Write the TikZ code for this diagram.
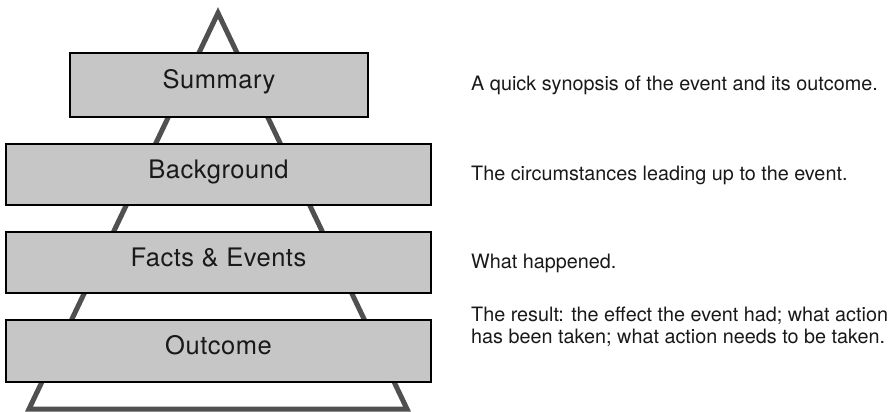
\documentclass[tikz,border=0pt]{standalone}
\usepackage{fontspec}
\setmainfont{TeX Gyre Heros}
\newfontfamily\labelfont[LetterSpace=2]{TeX Gyre Heros}
\begin{document}
\begin{tikzpicture}[x=1pt,y=-1pt,
  tier/.style={draw=black, line width=2pt, fill=boxgray, inner sep=0pt,
    minimum width=#1, text height=0.72em, text depth=0pt,
    font=\labelfont\fontsize{25.5}{30}\selectfont, text=black!90},
  note/.style={anchor=base west, align=left, inner sep=0pt,
    font=\fontsize{19.8}{22}\selectfont, text=black!90}]
  \definecolor{boxgray}{HTML}{C6C6C6}
  \definecolor{edgegray}{HTML}{505050}
  \useasboundingbox (0,0) rectangle (895,412);

  % pyramid outline behind the tiers
  \coordinate (apex) at (218,13);
  \coordinate (bl) at (29,409);
  \coordinate (br) at (407,409);
  \draw[edgegray, line width=5pt, line join=miter] (apex) -- (bl) -- (br) -- cycle;

  % tiers
  \node[tier=298pt, minimum height=64pt] (summary) at (219,85) {Summary};
  \node[tier=425pt, minimum height=61pt] (background) at (218.5,174.5) {Background};
  \node[tier=425pt, minimum height=61pt] (facts) at (218.5,262.5) {Facts \& Events};
  \node[tier=425pt, minimum height=62pt] (outcome) at (218.5,351) {Outcome};

  % descriptions
  \node[note] (dsummary) at (471,91) {A quick synopsis of the event and its outcome.};
  \node[note] (dbackground) at (471,180) {The circumstances leading up to the event.};
  \node[note] (dfacts) at (471,268) {What happened.};
  \node[note] (doutcome) at (471,343) {The result: the effect the event had; what action\\has been taken; what action needs to be taken.};
\end{tikzpicture}
\end{document}
